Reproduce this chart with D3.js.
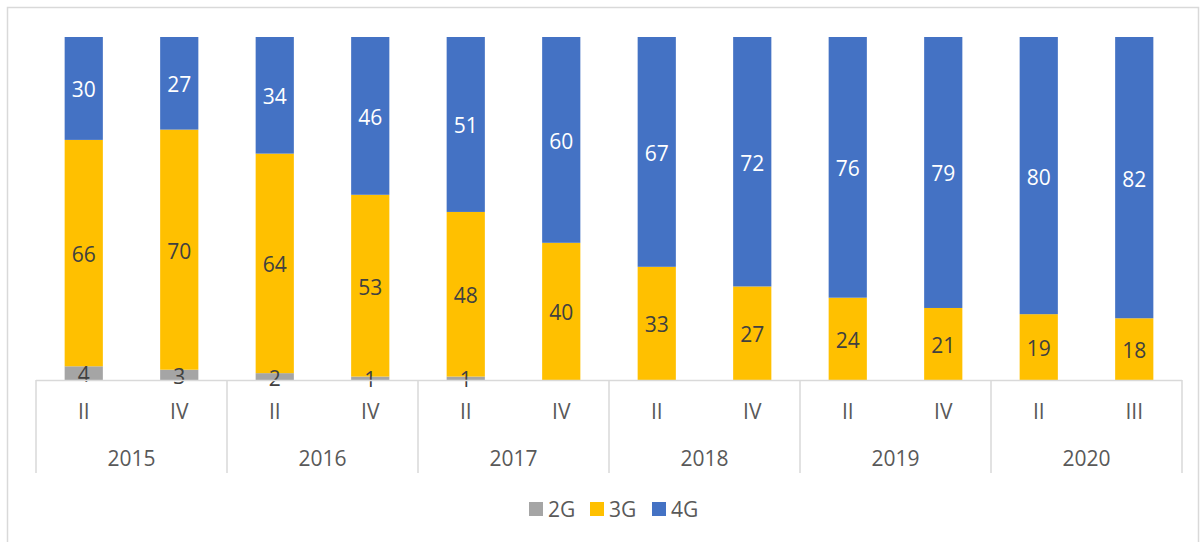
<!DOCTYPE html>
<html>
<head>
<meta charset="utf-8">
<script src="https://cdn.jsdelivr.net/npm/d3@7"></script>
<style>
  body { margin: 0; background: #fff; }
  svg { display: block; font-family: "Open Sans", "Noto Sans", sans-serif; }
</style>
</head>
<body>
<svg id="chart" width="1201" height="542"></svg>
<script>
// data
const years = ["2015", "2016", "2017", "2018", "2019", "2020"];
const quarters = ["II", "IV", "II", "IV", "II", "IV", "II", "IV", "II", "IV", "II", "III"];
const gen2 = [4, 3, 2, 1, 1, 0, 0, 0, 0, 0, 0, 0];
const gen3 = [66, 70, 64, 53, 48, 40, 33, 27, 24, 21, 19, 18];
const gen4 = [30, 27, 34, 46, 51, 60, 67, 72, 76, 79, 80, 82];
const seriesNames = ["2G", "3G", "4G"];
const seriesColors = ["#a5a5a5", "#ffc000", "#4472c4"];
const labelColors = ["#404040", "#404040", "#ffffff"];

const plotLeft = 36, plotRight = 1182, plotTop = 37, base = 380, axisBottom = 473;
const fontSize = 21;

const svg = d3.select("#chart");

// chart frame
svg.append("rect")
  .attr("x", 7.5).attr("y", 7.5)
  .attr("width", 1191).attr("height", 560)
  .attr("fill", "none").attr("stroke", "#d9d9d9").attr("stroke-width", 1.5);

const idx = d3.range(quarters.length);
const rows = idx.map(i => ({ i, "2G": gen2[i], "3G": gen3[i], "4G": gen4[i] }));

const stack = d3.stack().keys(seriesNames).offset(d3.stackOffsetExpand);
const layers = stack(rows);

const x = d3.scaleBand().domain(idx).range([plotLeft, plotRight]).paddingInner(0.6).paddingOuter(0.3);
const y = d3.scaleLinear().domain([0, 1]).range([base, plotTop]);

const g = svg.append("g");
layers.forEach((layer, s) => {
  g.selectAll(null)
    .data(layer)
    .join("rect")
    .attr("x", d => x(d.data.i))
    .attr("width", x.bandwidth())
    .attr("y", d => y(d[1]))
    .attr("height", d => y(d[0]) - y(d[1]))
    .attr("fill", seriesColors[s]);
});

// data labels
layers.forEach((layer, s) => {
  g.selectAll(null)
    .data(layer.filter(d => d.data[seriesNames[s]] > 0))
    .join("text")
    .attr("x", d => x(d.data.i) + x.bandwidth() / 2)
    .attr("y", d => (y(d[0]) + y(d[1])) / 2 + 1)
    .attr("text-anchor", "middle")
    .attr("dominant-baseline", "central")
    .attr("font-size", fontSize)
    .attr("fill", labelColors[s])
    .text(d => d.data[seriesNames[s]]);
});

// multi-level category axis
const axisColor = "#d9d9d9";
const ax = svg.append("g");
ax.append("line")
  .attr("x1", plotLeft).attr("x2", plotRight)
  .attr("y1", base + 0.5).attr("y2", base + 0.5)
  .attr("stroke", axisColor).attr("stroke-width", 1.5);

const yearScale = d3.scaleBand().domain(years).range([plotLeft, plotRight]);
years.forEach(yr => {
  ax.append("line")
    .attr("x1", yearScale(yr)).attr("x2", yearScale(yr))
    .attr("y1", base).attr("y2", axisBottom)
    .attr("stroke", axisColor).attr("stroke-width", 1.5);
});
ax.append("line")
  .attr("x1", plotRight).attr("x2", plotRight)
  .attr("y1", base).attr("y2", axisBottom)
  .attr("stroke", axisColor).attr("stroke-width", 1.5);

ax.selectAll(".q")
  .data(idx)
  .join("text")
  .attr("x", i => x(i) + x.bandwidth() / 2)
  .attr("y", 411)
  .attr("text-anchor", "middle")
  .attr("dominant-baseline", "central")
  .attr("font-size", fontSize)
  .attr("fill", "#595959")
  .text(i => quarters[i]);

ax.selectAll(".yr")
  .data(years)
  .join("text")
  .attr("x", d => yearScale(d) + yearScale.bandwidth() / 2)
  .attr("y", 458)
  .attr("text-anchor", "middle")
  .attr("dominant-baseline", "central")
  .attr("font-size", fontSize)
  .attr("fill", "#595959")
  .text(d => d);

// legend
const legendX = [529, 590, 652];
const lg = svg.append("g");
seriesNames.forEach((name, s) => {
  lg.append("rect")
    .attr("x", legendX[s]).attr("y", 502)
    .attr("width", 14).attr("height", 14)
    .attr("fill", seriesColors[s]);
  lg.append("text")
    .attr("x", legendX[s] + 19).attr("y", 509)
    .attr("dominant-baseline", "central")
    .attr("font-size", fontSize)
    .attr("fill", "#595959")
    .text(name);
});
</script>
</body>
</html>
